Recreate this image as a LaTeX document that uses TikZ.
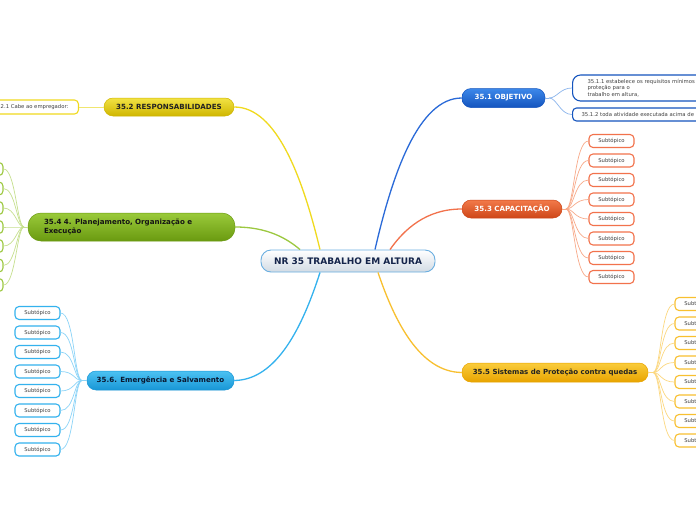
\documentclass[tikz,border=0pt]{standalone}
\usepackage{fontspec}
\setmainfont{DejaVu Sans}
\definecolor{navy}{HTML}{14244A}
\definecolor{ctrB}{HTML}{6AAEE0}\definecolor{ctrG}{HTML}{D2DBE4}
\definecolor{dk}{HTML}{222222}\definecolor{dkk}{HTML}{151515}\definecolor{dkb}{HTML}{0A1830}
\definecolor{objA}{HTML}{3C88EA}\definecolor{objB}{HTML}{1454BE}\definecolor{objL}{HTML}{2A6AD8}\definecolor{objS}{HTML}{8AB4EC}
\definecolor{resA}{HTML}{F2E244}\definecolor{resB}{HTML}{CFB600}\definecolor{resL}{HTML}{F0DA1E}\definecolor{resS}{HTML}{F0E670}
\definecolor{capA}{HTML}{F27A4A}\definecolor{capB}{HTML}{CE4618}\definecolor{capL}{HTML}{F2724C}\definecolor{capS}{HTML}{F8AA8A}
\definecolor{plaA}{HTML}{9ACA3A}\definecolor{plaB}{HTML}{6A9A10}\definecolor{plaL}{HTML}{9CC840}\definecolor{plaS}{HTML}{C6E08E}
\definecolor{sisA}{HTML}{FACC3C}\definecolor{sisB}{HTML}{E8A400}\definecolor{sisL}{HTML}{F8C030}\definecolor{sisS}{HTML}{FCD880}
\definecolor{emeA}{HTML}{4CC2F2}\definecolor{emeB}{HTML}{1896D6}\definecolor{emeL}{HTML}{34B2EE}\definecolor{emeS}{HTML}{8CD4F8}
\definecolor{subtxt}{HTML}{404040}
\begin{document}
\begin{tikzpicture}[x=1pt,y=-1pt,
  branch/.style={rounded corners=9pt, minimum height=19pt, inner sep=0pt, line width=0.5pt,
    font=\fontsize{7.1}{8.4}\selectfont\bfseries},
  subbox/.style={draw, fill=white, line width=1.1pt, rounded corners=4pt, minimum width=45pt,
    minimum height=13pt, inner sep=0pt, font=\fontsize{5.3}{6.4}\selectfont, text=subtxt},
  conn/.style={line width=1.3pt},
  subconn/.style={line width=0.7pt}]
\useasboundingbox (0,0) rectangle (696,520);
\clip (0,0) rectangle (696,520);
\fill[white] (0,0) rectangle (696,520);

% central node
\node[draw=ctrB, line width=0.9pt, rounded corners=10pt, minimum width=174pt, minimum height=22pt,
  top color=white, bottom color=ctrG, text=navy, font=\fontsize{9}{10.5}\selectfont\bfseries]
  (ctr) at (348,261) {NR 35 TRABALHO EM ALTURA};

% branches
\node[branch, draw=objB, top color=objA, bottom color=objB, text=white, minimum width=83pt] (obj) at (503.5,98) {35.1 OBJETIVO};
\node[branch, draw=resB, top color=resA, bottom color=resB, text=dk, minimum width=130pt, minimum height=18pt] (res) at (169,107) {35.2 RESPONSABILIDADES};
\node[branch, draw=capB, top color=capA, bottom color=capB, text=white, minimum width=100pt, minimum height=18pt] (cap) at (512,209) {35.3 CAPACITAÇÃO};
\node[branch, draw=plaB, top color=plaA, bottom color=plaB, text=dkk, minimum width=207pt, minimum height=28pt,
  rounded corners=13pt, align=left, text width=175pt, inner xsep=16pt] (pla) at (131.5,227) {35.4 4. Planejamento, Organização e\\Execução};
\node[branch, draw=sisB, top color=sisA, bottom color=sisB, text=dk, minimum width=186pt, font=\fontsize{7}{8.4}\selectfont\bfseries] (sis) at (555,372.5) {35.5 Sistemas de Proteção contra quedas};
\node[branch, draw=emeB, top color=emeA, bottom color=emeB, text=dkb, minimum width=147pt] (eme) at (160.5,380.5) {35.6. Emergência e Salvamento};

% main connectors
\draw[conn, resL] ([xshift=-28pt]ctr.north) .. controls (302.8,178.5) and (277,107) .. (res.east);
\draw[conn, objL] ([xshift=27pt]ctr.north) .. controls (392.4,174) and (418.5,98) .. (obj.west);
\draw[conn, capL] ([xshift=42pt]ctr.north) .. controls (404,229.5) and (426,209) .. (cap.west);
\draw[conn, plaL] ([xshift=-48pt]ctr.north) .. controls (287,238.5) and (267.5,227) .. (pla.east);
\draw[conn, emeL] ([xshift=-28pt]ctr.south) .. controls (302.8,326) and (277,380) .. (eme.east);
\draw[conn, sisL] ([xshift=30pt]ctr.south) .. controls (394.8,322) and (420,372) .. (sis.west);

% objetivo subtopics
\node[subbox, draw=objB, anchor=west, minimum width=200pt, minimum height=26pt, rounded corners=8pt,
  align=left, text width=190pt, inner xsep=15pt, font=\fontsize{5.3}{6.6}\selectfont, text=subtxt]
  (o1) at (572,88) {35.1.1 estabelece os requisitos mínimos\\proteção para o\\trabalho em altura,};
\node[subbox, draw=objB, anchor=west, minimum width=200pt, align=left, text width=190pt, inner xsep=9pt]
  (o2) at (572,114.5) {35.1.2 toda atividade executada acima de};
\coordinate (jO) at (549,98);
\draw[subconn, objS] (obj.east) -- (jO);
\draw[subconn, objS] (jO) .. controls +(8,0) and +(-12,0) .. (o1.west);
\draw[subconn, objS] (jO) .. controls +(8,0) and +(-12,0) .. (o2.west);

% responsabilidades subtopic
\node[subbox, draw=resL, anchor=east, minimum height=14pt, inner xsep=10pt] (r1) at (79,107) {35.2.1 Cabe ao empregador:};
\draw[subconn, resS, line width=1pt] (res.west) -- (r1.east);

% capacitacao subtopics
\coordinate (jC) at (566,209);
\draw[subconn, capS] (cap.east) -- (jC);
\foreach \i/\yy in {1/141,2/160.5,3/180,4/199.5,5/219,6/238.5,7/258,8/277}{
  \node[subbox, draw=capL] (c\i) at (611.5,\yy) {Subtópico};
  \draw[subconn, capS] (jC) .. controls +(8,0) and +(-14,0) .. (c\i.west);
}

% planejamento subtopics
\coordinate (jP) at (24,227);
\draw[subconn, plaS] (pla.west) -- (jP);
\foreach \i/\yy in {1/169,2/188.5,3/208,4/227,5/246,6/265.5,7/285}{
  \node[subbox, draw=plaL] (p\i) at (-19.5,\yy) {Subtópico};
  \draw[subconn, plaS] (jP) .. controls +(-7,0) and +(12,0) .. (p\i.east);
}

% sistemas subtopics
\coordinate (jS) at (653,372.5);
\draw[subconn, sisS] (sis.east) -- (jS);
\foreach \i/\yy in {1/304,2/323.5,3/343,4/362.5,5/382,6/401.5,7/421,8/440.5}{
  \node[subbox, draw=sisL] (s\i) at (697.5,\yy) {Subtópico};
  \draw[subconn, sisS] (jS) .. controls +(8,0) and +(-14,0) .. (s\i.west);
}

% emergencia subtopics
\coordinate (jE) at (82,380.5);
\draw[subconn, emeS] (eme.west) -- (jE);
\foreach \i/\yy in {1/313,2/332.5,3/352,4/371.5,5/391,6/410.5,7/430,8/449.5}{
  \node[subbox, draw=emeL] (e\i) at (37.5,\yy) {Subtópico};
  \draw[subconn, emeS] (jE) .. controls +(-8,0) and +(14,0) .. (e\i.east);
}
\end{tikzpicture}
\end{document}
